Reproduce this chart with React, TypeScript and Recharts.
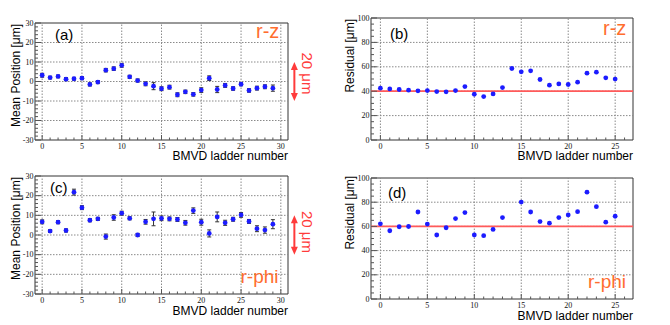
import React from "react";
import {
  ScatterChart,
  Scatter,
  XAxis,
  YAxis,
  ErrorBar,
  ReferenceLine,
  ReferenceArea,
} from "recharts";

// ---- data ----
const ladders30 = [0, 1, 2, 3, 4, 5, 6, 7, 8, 9, 10, 11, 12, 13, 14, 15, 16, 17, 18, 19, 20, 21, 22, 23, 24, 25, 26, 27, 28, 29];
const ladders26 = [0, 1, 2, 3, 4, 5, 6, 7, 8, 9, 10, 11, 12, 13, 14, 15, 16, 17, 18, 19, 20, 21, 22, 23, 24, 25];

const rzMean = [3.2, 2.0, 2.6, 1.2, 1.4, 1.7, -1.5, -0.3, 5.8, 6.6, 8.3, 2.4, 0.5, -1.2, -2.4, -3.7, -2.9, -6.8, -5.3, -6.6, -4.4, 1.7, -4.1, -2.0, -3.6, -1.4, -4.6, -3.4, -2.7, -3.4];
const rzMeanErr = [1.0, 0.7, 0.7, 0.8, 0.7, 0.8, 0.8, 0.8, 0.9, 0.9, 1.0, 0.8, 0.8, 1.0, 1.8, 1.0, 1.0, 1.0, 0.9, 0.9, 1.2, 1.2, 1.6, 1.0, 0.9, 0.8, 0.9, 1.0, 1.0, 1.6];
const rzResidual = [42.5, 41.9, 41.4, 40.8, 40.3, 40.5, 39.7, 39.5, 40.5, 43.8, 37.5, 35.6, 37.8, 43.0, 58.6, 55.9, 56.7, 49.6, 44.9, 46.0, 45.5, 47.4, 54.8, 55.6, 51.0, 49.9];

const rphiMean = [6.7, 2.0, 6.5, 2.3, 21.8, 13.9, 7.5, 8.2, -0.8, 8.9, 11.1, 8.5, 0.0, 6.7, 8.2, 8.5, 8.2, 7.9, 6.2, 12.4, 6.5, 0.8, 9.2, 6.2, 8.0, 10.2, 6.9, 3.2, 2.5, 5.5];
const rphiMeanErr = [1.0, 0.7, 0.8, 0.8, 1.5, 1.0, 0.8, 0.8, 1.3, 1.4, 1.0, 0.8, 0.8, 1.2, 3.5, 1.2, 1.0, 1.0, 1.2, 1.4, 1.5, 1.8, 2.5, 1.3, 1.0, 1.2, 1.0, 1.5, 1.6, 2.3];
const rphiResidual: (number | null)[] = [62.1, 56.4, 59.7, 59.9, 71.9, 61.9, 52.9, 58.9, 66.5, 71.4, 52.9, 52.3, 57.5, 67.3, null, 80.1, 71.9, 64.0, 62.7, 67.3, 69.5, 72.2, 88.3, 76.3, 63.5, 68.4];

const rzResidualRef = 40;
const rphiResidualRef = 60;

// ---- ticks ----
const ladderTicks30 = [0, 1, 2, 3, 4, 5, 6, 7, 8, 9, 10, 11, 12, 13, 14, 15, 16, 17, 18, 19, 20, 21, 22, 23, 24, 25, 26, 27, 28, 29, 30];
const ladderLabels30 = [0, 5, 10, 15, 20, 25, 30];
const ladderTicks26 = [0, 1, 2, 3, 4, 5, 6, 7, 8, 9, 10, 11, 12, 13, 14, 15, 16, 17, 18, 19, 20, 21, 22, 23, 24, 25, 26];
const ladderLabels26 = [0, 5, 10, 15, 20, 25];
const meanTicks = [-30, -28, -26, -24, -22, -20, -18, -16, -14, -12, -10, -8, -6, -4, -2, 0, 2, 4, 6, 8, 10, 12, 14, 16, 18, 20, 22, 24, 26, 28, 30];
const meanLabels = [-30, -20, -10, 0, 10, 20, 30];
const residualTicks = [0, 5, 10, 15, 20, 25, 30, 35, 40, 45, 50, 55, 60, 65, 70, 75, 80, 85, 90, 95, 100];
const residualLabels = [0, 20, 40, 60, 80, 100];

const BLUE = "#1c1cff";
const RED = "#ff3b3b";
const ORANGE = "#ff6d2e";
const SANS = "'Liberation Sans', Arial, sans-serif";
const SERIF = "'Liberation Serif', 'Times New Roman', serif";

type Pt = { x: number; y: number; err?: number };

function toPoints(xs: number[], ys: (number | null)[], errs?: number[]): Pt[] {
  const out: Pt[] = [];
  xs.forEach((x, i) => {
    const y = ys[i];
    if (y == null) return;
    out.push(errs ? { x, y, err: errs[i] } : { x, y });
  });
  return out;
}

function makeYTick(labels: number[]) {
  return (p: any) => {
    const v = p.payload.value;
    const major = labels.includes(v);
    const ax = p.x + 1.5;
    return (
      <g>
        <line x1={ax} y1={p.y} x2={ax + (major ? 6 : 3)} y2={p.y} stroke="#555" />
        {major && (
          <text x={p.x} y={p.y} textAnchor="end" dominantBaseline="central" fontSize={8} fontFamily={SERIF} fill="#111">
            {v}
          </text>
        )}
      </g>
    );
  };
}

function makeXTick(labels: number[]) {
  return (p: any) => {
    const v = p.payload.value;
    const major = labels.includes(v);
    const ay = p.y - 2;
    return (
      <g>
        <line x1={p.x} y1={ay} x2={p.x} y2={ay - (major ? 5 : 2.5)} stroke="#555" />
        {major && (
          <text x={p.x} y={ay + 6} textAnchor="middle" dominantBaseline="central" fontSize={8} fontFamily={SERIF} fill="#111">
            {v}
          </text>
        )}
      </g>
    );
  };
}

function makeArrow(textDy: number) {
  return (p: any) => {
    const x = p.x1;
    const top = Math.min(p.y1, p.y2);
    const bot = Math.max(p.y1, p.y2);
    return (
      <g>
        <line x1={x} y1={top + 6} x2={x} y2={bot - 6} stroke={RED} strokeWidth={2} />
        <polygon points={`${x},${top} ${x - 3.5},${top + 8} ${x + 3.5},${top + 8}`} fill={RED} />
        <polygon points={`${x},${bot} ${x - 3.5},${bot - 8} ${x + 3.5},${bot - 8}`} fill={RED} />
        <text
          transform={`translate(${x + 8},${(top + bot) / 2 + textDy}) rotate(90)`}
          textAnchor="middle"
          fontSize={15}
          fontFamily={SANS}
          fill={RED}
        >
          20 μm
        </text>
      </g>
    );
  };
}

type PanelProps = {
  box: { left: number; top: number; width: number; height: number };
  plot: { left: number; top: number; right: number; bottom: number };
  data: Pt[];
  xDomain: [number, number];
  xTicks: number[];
  xLabels: number[];
  yDomain: [number, number];
  yTicks: number[];
  yLabels: number[];
  refY?: number;
  arrowX?: number;
  arrowTextDy?: number;
};

function Panel(props: PanelProps) {
  const { box, plot, data, xDomain, xTicks, xLabels, yDomain, yTicks, yLabels, refY, arrowX, arrowTextDy } = props;
  const margin = { top: plot.top - box.top, right: box.left + box.width - plot.right, left: 0, bottom: 0 };
  const hasErr = data.some((d) => d.err != null);
  return (
    <div style={{ position: "absolute", left: box.left, top: box.top }}>
      <ScatterChart width={box.width} height={box.height} margin={margin}>
        <XAxis
          type="number"
          dataKey="x"
          domain={xDomain}
          ticks={xTicks}
          allowDataOverflow
          interval={0}
          height={box.top + box.height - plot.bottom}
          axisLine={false}
          tickLine={false}
          tickSize={0}
          tickMargin={2}
          tick={makeXTick(xLabels)}
        />
        <YAxis
          type="number"
          dataKey="y"
          domain={yDomain}
          ticks={yTicks}
          allowDataOverflow
          interval={0}
          width={plot.left - box.left}
          axisLine={false}
          tickLine={false}
          tickSize={0}
          tickMargin={1.5}
          tick={makeYTick(yLabels)}
        />
        {xLabels.map((v) => (
          <ReferenceLine key={`gx${v}`} x={v} stroke="#8a8a8a" strokeDasharray="1.5 1.5" />
        ))}
        {yLabels
          .filter((v) => v > yDomain[0] && v < yDomain[1])
          .map((v) => (
            <ReferenceLine key={`gy${v}`} y={v} stroke="#8a8a8a" strokeDasharray="1.5 1.5" />
          ))}
        <ReferenceArea
          x1={xDomain[0]}
          x2={xDomain[1]}
          y1={yDomain[0]}
          y2={yDomain[1]}
          fill="none"
          fillOpacity={0}
          stroke="#333"
          strokeWidth={1}
        />
        {refY != null && <ReferenceLine y={refY} stroke="#ff5a5a" strokeWidth={1.8} />}
        {arrowX != null && (
          <ReferenceLine
            segment={[
              { x: arrowX, y: -10 },
              { x: arrowX, y: 10 },
            ]}
            ifOverflow="visible"
            shape={makeArrow(arrowTextDy ?? 0)}
          />
        )}
        <Scatter
          data={data}
          dataKey="y"
          isAnimationActive={false}
          shape={(p: any) => <circle cx={p.cx} cy={p.cy} r={2.4} fill={BLUE} />}
        >
          {hasErr && <ErrorBar dataKey="err" direction="y" width={2} stroke="#333" strokeWidth={1} />}
        </Scatter>
      </ScatterChart>
    </div>
  );
}

function Title(p: { x: number; y: number; text: string; size: number; color?: string; anchor?: string; rotate?: boolean }) {
  return (
    <text
      x={p.rotate ? 0 : p.x}
      y={p.rotate ? 0 : p.y}
      transform={p.rotate ? `translate(${p.x},${p.y}) rotate(-90)` : undefined}
      textAnchor={p.anchor ?? "start"}
      fontSize={p.size}
      fontFamily={SANS}
      fill={p.color ?? "#000"}
    >
      {p.text}
    </text>
  );
}

export default function App() {
  return (
    <div style={{ position: "absolute", left: 0, top: 0, width: 670, height: 325, background: "#fff", fontFamily: SANS }}>
      <Panel
        box={{ left: 0, top: 0, width: 340, height: 165 }}
        plot={{ left: 35, top: 23, right: 288, bottom: 140 }}
        data={toPoints(ladders30, rzMean, rzMeanErr)}
        xDomain={[-0.9, 30.9]}
        xTicks={ladderTicks30}
        xLabels={ladderLabels30}
        yDomain={[-30, 30]}
        yTicks={meanTicks}
        yLabels={meanLabels}
        arrowX={31.7}
        arrowTextDy={-8}
      />
      <Panel
        box={{ left: 340, top: 0, width: 330, height: 165 }}
        plot={{ left: 371, top: 18, right: 633, bottom: 140 }}
        data={toPoints(ladders26, rzResidual)}
        xDomain={[-1, 26.9]}
        xTicks={ladderTicks26}
        xLabels={ladderLabels26}
        yDomain={[0, 100]}
        yTicks={residualTicks}
        yLabels={residualLabels}
        refY={rzResidualRef}
      />
      <Panel
        box={{ left: 0, top: 162, width: 340, height: 163 }}
        plot={{ left: 35, top: 176, right: 288, bottom: 294 }}
        data={toPoints(ladders30, rphiMean, rphiMeanErr)}
        xDomain={[-0.9, 30.9]}
        xTicks={ladderTicks30}
        xLabels={ladderLabels30}
        yDomain={[-30, 30]}
        yTicks={meanTicks}
        yLabels={meanLabels}
        arrowX={31.7}
        arrowTextDy={-3}
      />
      <Panel
        box={{ left: 340, top: 162, width: 330, height: 163 }}
        plot={{ left: 371, top: 178, right: 633, bottom: 299 }}
        data={toPoints(ladders26, rphiResidual)}
        xDomain={[-1, 26.9]}
        xTicks={ladderTicks26}
        xLabels={ladderLabels26}
        yDomain={[0, 100]}
        yTicks={residualTicks}
        yLabels={residualLabels}
        refY={rphiResidualRef}
      />
      <svg width={670} height={325} style={{ position: "absolute", left: 0, top: 0, pointerEvents: "none" }}>
        <Title x={55} y={39.5} text="(a)" size={15} />
        <Title x={390} y={38.5} text="(b)" size={15} />
        <Title x={50} y={193} text="(c)" size={15} />
        <Title x={388} y={197.5} text="(d)" size={15} />
        <Title x={256} y={38.3} text="r-z" size={20} color={ORANGE} />
        <Title x={603} y={35} text="r-z" size={20} color={ORANGE} />
        <Title x={240.5} y={283} text="r-phi" size={19} color={ORANGE} />
        <Title x={588} y={288} text="r-phi" size={19} color={ORANGE} />
        <Title x={19.5} y={24} text="Mean Position [μm]" size={12} anchor="end" rotate />
        <Title x={19.5} y={177} text="Mean Position [μm]" size={12} anchor="end" rotate />
        <Title x={354} y={19} text="Residual [μm]" size={12} anchor="end" rotate />
        <Title x={354} y={176} text="Residual [μm]" size={12} anchor="end" rotate />
        <Title x={288} y={160} text="BMVD ladder number" size={12} anchor="end" />
        <Title x={633} y={160} text="BMVD ladder number" size={12} anchor="end" />
        <Title x={288} y={315} text="BMVD ladder number" size={12} anchor="end" />
        <Title x={633} y={320} text="BMVD ladder number" size={12} anchor="end" />
      </svg>
    </div>
  );
}
